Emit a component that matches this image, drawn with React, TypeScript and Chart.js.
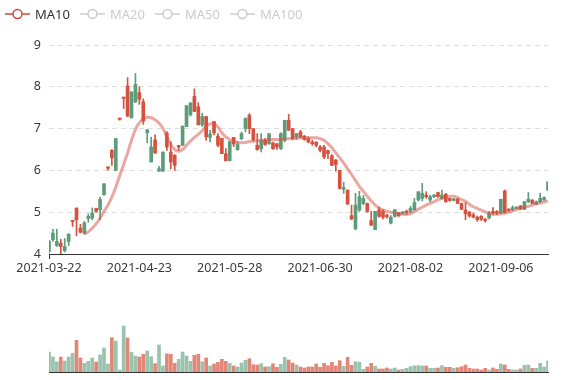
import React, { useEffect, useRef } from "react";
import { Chart, registerables } from "chart.js";
Chart.register(...registerables);

const dates = [
  "2021-03-22","2021-03-23","2021-03-24","2021-03-25","2021-03-26",
  "2021-03-29","2021-03-30","2021-03-31","2021-04-01","2021-04-02",
  "2021-04-06","2021-04-07","2021-04-08","2021-04-09",
  "2021-04-12","2021-04-13","2021-04-14","2021-04-15","2021-04-16",
  "2021-04-19","2021-04-20","2021-04-21","2021-04-22","2021-04-23",
  "2021-04-26","2021-04-27","2021-04-28","2021-04-29","2021-04-30",
  "2021-05-05","2021-05-06","2021-05-07",
  "2021-05-10","2021-05-11","2021-05-12","2021-05-13","2021-05-14",
  "2021-05-17","2021-05-18","2021-05-19","2021-05-20","2021-05-21",
  "2021-05-24","2021-05-25","2021-05-26","2021-05-27","2021-05-28",
  "2021-05-31","2021-06-01","2021-06-02","2021-06-03","2021-06-04",
  "2021-06-07","2021-06-08","2021-06-09","2021-06-10","2021-06-11",
  "2021-06-14","2021-06-15","2021-06-16","2021-06-17","2021-06-18",
  "2021-06-21","2021-06-22","2021-06-23","2021-06-24","2021-06-25",
  "2021-06-28","2021-06-29","2021-06-30",
  "2021-07-01","2021-07-02",
  "2021-07-05","2021-07-06","2021-07-07","2021-07-08","2021-07-09",
  "2021-07-12","2021-07-13","2021-07-14","2021-07-15","2021-07-16",
  "2021-07-19","2021-07-20","2021-07-21","2021-07-22","2021-07-23",
  "2021-07-26","2021-07-27","2021-07-28","2021-07-29","2021-07-30",
  "2021-08-02","2021-08-03","2021-08-04","2021-08-05","2021-08-06",
  "2021-08-09","2021-08-10","2021-08-11","2021-08-12","2021-08-13",
  "2021-08-18","2021-08-19","2021-08-20",
  "2021-08-23","2021-08-24","2021-08-25","2021-08-26","2021-08-27",
  "2021-08-30","2021-08-31","2021-09-01","2021-09-02","2021-09-03",
  "2021-09-06","2021-09-07","2021-09-08","2021-09-09","2021-09-10",
  "2021-09-13","2021-09-14","2021-09-15","2021-09-16","2021-09-17",
  "2021-09-22","2021-09-23","2021-09-24"
];

const opens = [
  4.06,4.34,4.20,4.26,4.08,4.30,4.77,5.10,4.62,4.50,
  4.85,4.86,5.09,5.06,5.42,6.05,6.48,6.00,7.22,7.72,
  8.02,7.26,7.64,7.86,7.64,6.90,6.20,6.73,5.98,5.98,
  6.89,6.44,6.36,6.56,6.60,7.05,7.33,7.77,7.52,7.09,
  7.29,6.79,7.17,6.82,6.77,6.40,6.23,6.79,6.50,6.76,
  7.00,7.32,7.00,6.60,6.52,6.72,6.64,6.66,6.64,6.52,
  6.72,7.20,7.00,6.80,6.92,6.82,6.76,6.68,6.68,6.56,
  6.56,6.48,6.35,6.25,6.00,5.55,5.53,4.92,4.60,5.05,
  5.21,5.21,4.80,4.58,5.06,5.02,4.92,4.74,4.90,4.99,
  4.97,4.99,5.02,5.06,5.29,5.33,5.41,5.29,5.37,5.47,
  5.33,5.43,5.33,5.28,5.31,5.21,5.05,5.00,4.94,4.88,
  4.90,4.83,4.86,5.02,5.00,4.98,5.51,5.07,5.06,5.09,
  5.15,5.07,5.25,5.29,5.19,5.25,5.29,5.53
];
const closes = [
  4.31,4.50,4.30,4.18,4.18,4.47,4.77,4.82,4.52,4.74,
  4.90,4.98,5.02,5.31,5.68,6.05,6.30,6.76,7.22,7.72,
  7.30,7.88,8.06,7.70,7.18,6.97,6.56,6.42,6.04,6.44,
  6.56,6.20,6.12,6.56,7.06,7.55,7.61,7.41,7.09,7.29,
  6.80,6.87,6.90,6.60,6.40,6.23,6.69,6.63,6.62,6.88,
  7.24,7.00,6.74,6.50,6.72,6.62,6.88,6.52,6.56,6.88,
  7.20,6.96,6.76,6.88,6.80,6.74,6.68,6.64,6.60,6.48,
  6.32,6.40,6.12,6.14,5.57,5.59,5.20,4.84,5.17,5.37,
  5.33,5.02,4.69,5.02,4.90,4.88,4.89,4.88,5.06,4.91,
  5.00,4.99,5.09,5.23,5.49,5.45,5.37,5.37,5.41,5.37,
  5.41,5.25,5.28,5.30,5.21,5.07,4.96,4.91,4.88,4.82,
  4.83,4.80,4.98,4.98,4.98,5.31,4.99,5.04,5.11,5.12,
  5.08,5.25,5.31,5.21,5.25,5.33,5.35,5.72
];
const lows = [
  4.02,4.30,4.18,4.00,4.05,4.20,4.66,4.44,4.50,4.47,
  4.76,4.82,5.00,4.82,5.40,6.00,6.12,6.00,7.20,7.48,
  7.28,7.25,7.62,7.58,7.10,6.66,6.20,6.40,5.98,5.98,
  6.48,6.04,6.00,6.48,6.60,7.05,7.30,7.41,7.09,7.05,
  6.72,6.68,6.85,6.56,6.40,6.23,6.23,6.57,6.48,6.73,
  6.92,6.88,6.70,6.48,6.44,6.60,6.62,6.50,6.50,6.50,
  6.68,6.96,6.74,6.74,6.78,6.72,6.66,6.60,6.56,6.44,
  6.28,6.28,6.12,5.98,5.55,5.45,5.18,4.82,4.58,5.02,
  5.18,5.00,4.68,4.58,4.88,4.84,4.86,4.72,4.88,4.90,
  4.95,4.94,4.98,5.04,5.27,5.27,5.33,5.25,5.35,5.36,
  5.31,5.24,5.26,5.27,5.20,5.06,4.82,4.88,4.86,4.78,
  4.80,4.76,4.84,4.94,4.94,4.97,4.98,5.02,5.04,5.08,
  5.06,5.06,5.23,5.20,5.18,5.23,5.28,5.52
];
const highs = [
  4.33,4.59,4.59,4.35,4.37,4.49,4.80,5.10,4.71,4.78,
  4.96,5.10,5.10,5.36,5.68,6.08,6.50,6.76,7.24,7.75,
  8.22,7.88,8.32,8.00,7.71,6.98,6.80,6.85,6.10,6.44,
  6.93,6.69,6.38,6.60,7.06,7.55,7.63,7.95,7.62,7.37,
  7.29,6.96,7.17,6.88,6.77,6.52,6.69,6.79,6.68,6.92,
  7.26,7.36,7.00,6.88,6.88,6.76,6.88,6.68,6.64,6.90,
  7.20,7.34,7.00,6.88,6.96,6.84,6.80,6.72,6.68,6.60,
  6.60,6.48,6.38,6.26,6.00,5.72,5.53,5.17,5.45,5.50,
  5.40,5.22,5.02,5.02,5.12,5.06,4.95,4.92,5.06,5.00,
  5.02,5.05,5.14,5.33,5.49,5.69,5.49,5.41,5.43,5.48,
  5.53,5.45,5.34,5.33,5.33,5.22,5.23,5.02,4.98,4.91,
  4.92,4.85,5.02,5.11,5.04,5.31,5.53,5.08,5.15,5.13,
  5.16,5.26,5.47,5.30,5.27,5.45,5.37,5.73
];
const volumes = [
  200,150,103,150,110,150,187,317,140,87,
  107,140,100,170,240,80,343,310,20,460,
  340,197,160,150,177,210,153,83,270,60,
  183,177,87,127,200,160,107,167,177,103,
  140,60,80,97,127,107,87,60,50,90,
  117,133,73,70,83,50,53,83,47,77,
  147,120,90,70,50,40,50,50,80,47,
  87,63,97,60,113,57,147,67,103,97,
  27,50,87,57,30,30,40,30,40,20,
  27,37,53,60,63,60,60,37,37,40,
  63,47,47,37,43,53,70,37,30,30,
  20,37,20,40,27,80,70,27,20,20,
  30,67,70,37,37,87,50,110
];
const ma10 = [
  null,null,null,null,null,null,null,null,null,4.48,
  4.53,4.62,4.72,4.86,5.02,5.17,5.36,5.60,5.88,6.14,
  6.42,6.72,6.98,7.14,7.23,7.27,7.26,7.21,7.13,7.01,
  6.80,6.62,6.50,6.46,6.50,6.60,6.70,6.79,6.86,6.95,
  7.05,7.11,7.12,7.04,6.90,6.80,6.74,6.70,6.67,6.66,
  6.67,6.69,6.70,6.71,6.72,6.73,6.74,6.74,6.74,6.74,
  6.75,6.76,6.76,6.77,6.78,6.78,6.78,6.78,6.78,6.76,
  6.72,6.64,6.54,6.42,6.30,6.18,6.04,5.90,5.76,5.62,
  5.50,5.38,5.27,5.17,5.10,5.05,5.02,5.00,4.99,4.97,
  4.95,4.95,4.97,5.01,5.07,5.12,5.17,5.21,5.25,5.30,
  5.33,5.36,5.38,5.38,5.35,5.30,5.26,5.19,5.13,5.09,
  5.05,5.01,4.97,4.95,4.95,4.96,4.98,5.00,5.03,5.06,
  5.09,5.12,5.14,5.17,5.20,5.22,5.24,5.27
];
const seriesNames = ["MA10", "MA20", "MA50", "MA100"];
const priceMin = 4;
const priceMax = 9;
const priceStep = 1;
const volumeMax = 500;
const labelEvery = 23;

const UP = "#5c9c7b";
const DOWN = "#d6523f";
const UP_VOL = "rgba(92,156,123,0.62)";
const DOWN_VOL = "rgba(214,82,63,0.7)";
const MA_COLOR = "rgba(214,82,70,0.5)";
const MA_LEGEND = "#d0473b";
const FONT = "'Noto Sans', 'DejaVu Sans', sans-serif";

const legendPlugin = {
  id: "maLegend",
  afterDraw(chart: any) {
    const ctx = chart.ctx;
    let x = 5;
    const y = 14;
    ctx.save();
    ctx.font = `13px ${FONT}`;
    ctx.textBaseline = "middle";
    chart.data.datasets.forEach((ds: any, i: number) => {
      if (!ds.isMA) return;
      const active = chart.isDatasetVisible(i);
      const col = active ? ds.legendColor : "#ccc";
      ctx.strokeStyle = col;
      ctx.lineWidth = 1.5;
      ctx.beginPath();
      ctx.moveTo(x, y);
      ctx.lineTo(x + 25, y);
      ctx.stroke();
      ctx.beginPath();
      ctx.arc(x + 12.5, y, 4.5, 0, Math.PI * 2);
      ctx.fillStyle = "#fff";
      ctx.fill();
      ctx.stroke();
      ctx.fillStyle = active ? "#333" : "#ccc";
      ctx.fillText(ds.label, x + 30, y + 1);
      x += 25 + 5 + ctx.measureText(ds.label).width + 10;
    });
    ctx.restore();
  },
};

export default function App() {
  const priceRef = useRef<HTMLCanvasElement>(null);
  const volRef = useRef<HTMLCanvasElement>(null);

  useEffect(() => {
    const candleColors = opens.map((o, i) => (closes[i] > o ? UP : DOWN));
    const volColors = opens.map((o, i) => (o > closes[i] ? DOWN_VOL : UP_VOL));

    const priceChart = new Chart(priceRef.current as HTMLCanvasElement, {
      type: "bar",
      data: {
        labels: dates,
        datasets: [
          {
            type: "line",
            label: seriesNames[0],
            data: ma10,
            borderColor: MA_COLOR,
            borderWidth: 3,
            pointRadius: 0,
            tension: 0.4,
            order: 0,
            isMA: true,
            legendColor: MA_LEGEND,
          } as any,
          ...seriesNames.slice(1).map(
            (n) =>
              ({
                type: "line",
                label: n,
                data: [],
                hidden: true,
                pointRadius: 0,
                order: 0,
                isMA: true,
                legendColor: "#ccc",
              } as any)
          ),
          {
            label: "wick",
            data: lows.map((l, i) => [l, highs[i]]),
            backgroundColor: candleColors,
            barThickness: 1,
            grouped: false,
            order: 2,
          } as any,
          {
            label: "body",
            data: opens.map((o, i) => [o, closes[i]]),
            backgroundColor: candleColors,
            barThickness: 3,
            minBarLength: 1.5,
            grouped: false,
            order: 1,
          } as any,
        ],
      },
      options: {
        animation: false,
        responsive: false,
        devicePixelRatio: 1,
        events: [],
        layout: { padding: { top: 45, right: 29, left: 0, bottom: 0 } },
        plugins: { legend: { display: false }, tooltip: { enabled: false } },
        scales: {
          x: {
            type: "category",
            offset: false,
            afterFit: (s: any) => {
              s.height = 36;
            },
            grid: {
              offset: false,
              drawOnChartArea: false,
              drawTicks: true,
              tickLength: 5,
              color: (c: any) => (c.index % labelEvery === 0 ? "#333" : "rgba(0,0,0,0)"),
            },
            border: { display: true, color: "#333", width: 1 },
            ticks: {
              autoSkip: false,
              maxRotation: 0,
              minRotation: 0,
              padding: 2,
              color: "#3a3a3a",
              font: { family: FONT, size: 12.5 },
              callback: (_v: any, i: number) => (i % labelEvery === 0 ? dates[i] : null),
            },
          },
          y: {
            min: priceMin,
            max: priceMax,
            afterFit: (s: any) => {
              s.width = 49;
            },
            ticks: {
              stepSize: priceStep,
              padding: 8,
              color: "#3a3a3a",
              font: { family: FONT, size: 12.5 },
            },
            grid: {
              drawTicks: false,
              color: (c: any) => (c.tick && c.tick.value === priceMin ? "rgba(0,0,0,0)" : "#dedede"),
            },
            border: { display: false, dash: [5, 4] },
          },
        },
      },
      plugins: [legendPlugin],
    } as any);

    const volChart = new Chart(volRef.current as HTMLCanvasElement, {
      type: "bar",
      data: {
        labels: dates,
        datasets: [
          {
            label: "Volume",
            data: volumes,
            backgroundColor: volColors,
            barThickness: 3,
          } as any,
        ],
      },
      options: {
        animation: false,
        responsive: false,
        devicePixelRatio: 1,
        events: [],
        layout: { padding: { top: 32, right: 29, left: 49, bottom: 8 } },
        plugins: { legend: { display: false }, tooltip: { enabled: false } },
        scales: {
          x: {
            type: "category",
            offset: false,
            afterFit: (s: any) => {
              s.height = 0;
            },
            grid: { display: false, offset: false },
            border: { display: true, color: "#333", width: 1 },
            ticks: { display: false },
          },
          y: {
            display: false,
            min: 0,
            max: volumeMax,
          },
        },
      },
    } as any);

    return () => {
      priceChart.destroy();
      volChart.destroy();
    };
  }, []);

  return (
    <div style={{ position: "absolute", left: 0, top: 0, width: 577, height: 380, background: "#fff" }}>
      <canvas ref={priceRef} width={577} height={290} style={{ position: "absolute", left: 0, top: 0 }} />
      <canvas ref={volRef} width={577} height={90} style={{ position: "absolute", left: 0, top: 290 }} />
    </div>
  );
}
